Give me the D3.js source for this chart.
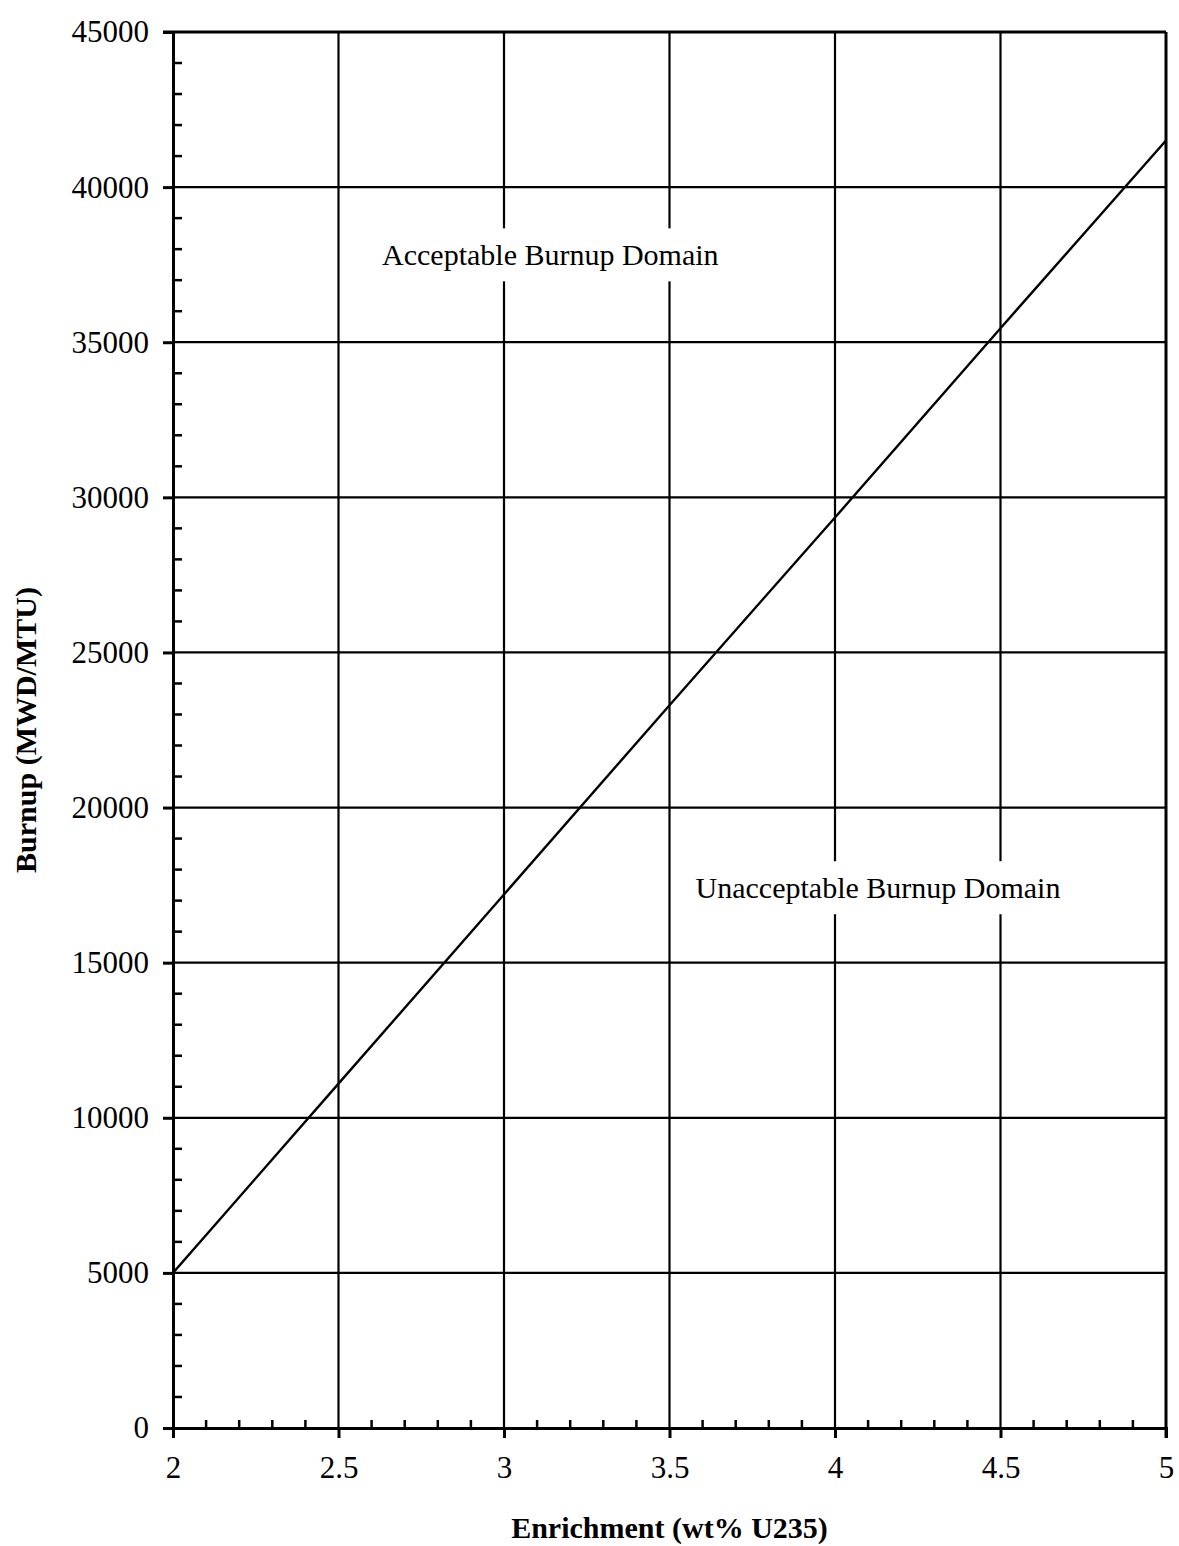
<!DOCTYPE html>
<html>
<head>
<meta charset="utf-8">
<script src="https://cdn.jsdelivr.net/npm/d3@7"></script>
<style>
  body { margin: 0; background: #fff; }
  text { font-family: "Liberation Serif", "Times New Roman", serif; fill: #000; }
</style>
</head>
<body>
<script>
const width = 1179;
const height = 1546;

// data
const enrichment = [2, 2.5, 3, 3.5, 4, 4.5, 5];
const burnup = [5000, 11100, 17200, 23300, 29350, 35450, 41500];
const xTicks = [2, 2.5, 3, 3.5, 4, 4.5, 5];
const yTicks = [0, 5000, 10000, 15000, 20000, 25000, 30000, 35000, 40000, 45000];
const regionLabels = ["Acceptable Burnup Domain", "Unacceptable Burnup Domain"];
const regionPos = [[3.14, 37700], [4.13, 17300]];

const margin = { left: 173, right: 13, top: 32, bottom: 118 };

let svg = d3.select("body")
  .append("svg")
  .attr("width", width)
  .attr("height", height);

let x = d3.scaleLinear()
  .domain([2, 5])
  .range([margin.left, width - margin.right]);

let y = d3.scaleLinear()
  .domain([0, 45000])
  .range([height - margin.bottom, margin.top]);

let g = svg.append("g");

// grid
g.selectAll("line.vgrid")
  .data(xTicks.slice(1, -1))
  .enter().append("line")
  .attr("class", "vgrid")
  .attr("x1", d => x(d)).attr("x2", d => x(d))
  .attr("y1", y(45000)).attr("y2", y(0))
  .attr("stroke", "#000")
  .attr("stroke-width", 2.2);

g.selectAll("line.hgrid")
  .data(yTicks.slice(1, -1))
  .enter().append("line")
  .attr("class", "hgrid")
  .attr("x1", x(2)).attr("x2", x(5))
  .attr("y1", d => y(d)).attr("y2", d => y(d))
  .attr("stroke", "#000")
  .attr("stroke-width", 2.2);

// axes
let xAxis = d3.axisBottom(x)
  .tickValues(xTicks)
  .tickFormat(d3.format("~g"))
  .tickSize(10)
  .tickPadding(18);

let gx = g.append("g")
  .attr("transform", `translate(0,${y(0)})`)
  .call(xAxis);

let yAxis = d3.axisLeft(y)
  .tickValues(yTicks)
  .tickFormat(d3.format("d"))
  .tickSize(10)
  .tickPadding(14);

let gy = g.append("g")
  .attr("transform", `translate(${x(2)},0)`)
  .call(yAxis);

[gx, gy].forEach(a => {
  a.attr("font-family", null).attr("font-size", null);
  a.select(".domain").attr("stroke", "#000").attr("stroke-width", 3);
  a.selectAll(".tick line").attr("stroke", "#000").attr("stroke-width", 3);
  a.selectAll(".tick text")
    .attr("fill", "#000")
    .style("font-family", "'Liberation Serif', serif")
    .style("font-size", "31px");
});

// minor ticks
let xMinor = d3.range(2, 5, 0.1).filter(d => Math.abs(d * 2 - Math.round(d * 2)) > 1e-6);
g.selectAll("line.xminor")
  .data(xMinor)
  .enter().append("line")
  .attr("x1", d => x(d)).attr("x2", d => x(d))
  .attr("y1", y(0)).attr("y2", y(0) - 8)
  .attr("stroke", "#000")
  .attr("stroke-width", 2.5);

let yMinor = d3.range(0, 45000, 1000).filter(d => d % 5000 !== 0);
g.selectAll("line.yminor")
  .data(yMinor)
  .enter().append("line")
  .attr("x1", x(2)).attr("x2", x(2) + 9)
  .attr("y1", d => y(d)).attr("y2", d => y(d))
  .attr("stroke", "#000")
  .attr("stroke-width", 2.5);

// frame top and right
g.append("line")
  .attr("x1", x(2) - 10).attr("x2", x(5))
  .attr("y1", y(45000)).attr("y2", y(45000))
  .attr("stroke", "#000").attr("stroke-width", 3);
g.append("line")
  .attr("x1", x(5)).attr("x2", x(5))
  .attr("y1", y(45000)).attr("y2", y(0) + 10)
  .attr("stroke", "#000").attr("stroke-width", 3);

// region labels with gaps in the grid
regionLabels.forEach((t, i) => {
  let lg = g.append("g");
  let bg = lg.append("rect").attr("fill", "#fff");
  let txt = lg.append("text")
    .attr("x", x(regionPos[i][0]))
    .attr("y", y(regionPos[i][1]))
    .attr("text-anchor", "middle")
    .attr("dominant-baseline", "middle")
    .style("font-size", "30px")
    .text(t);
  let bb = txt.node().getBBox();
  bg.attr("x", bb.x - 4)
    .attr("y", bb.y - 10)
    .attr("width", bb.width + 8)
    .attr("height", bb.height + 20);
});

// data line
let line = d3.line()
  .x((d, i) => x(enrichment[i]))
  .y(d => y(d));

g.append("path")
  .datum(burnup)
  .attr("fill", "none")
  .attr("stroke", "#000")
  .attr("stroke-width", 2.4)
  .attr("d", line);

// axis titles
svg.append("text")
  .attr("x", (x(2) + x(5)) / 2)
  .attr("y", 1538)
  .attr("text-anchor", "middle")
  .style("font-size", "30px")
  .style("font-weight", "bold")
  .text("Enrichment (wt% U235)");

svg.append("text")
  .attr("transform", `translate(36,${(y(0) + y(45000)) / 2}) rotate(-90)`)
  .attr("text-anchor", "middle")
  .style("font-size", "30px")
  .style("font-weight", "bold")
  .text("Burnup (MWD/MTU)");
</script>
</body>
</html>
